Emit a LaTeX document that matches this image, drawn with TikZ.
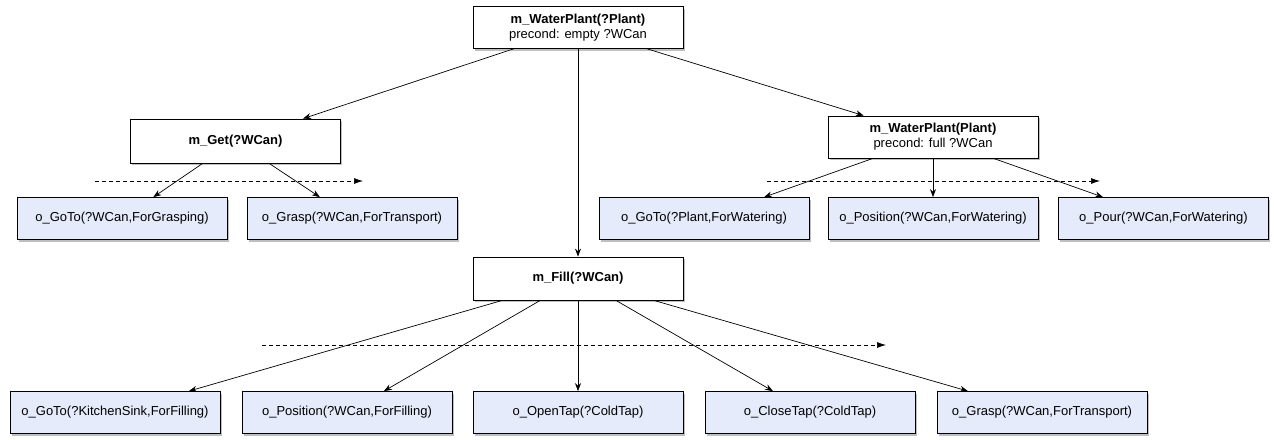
\documentclass[tikz,border=0pt]{standalone}
\usepackage{fontspec}
\setmainfont{Liberation Sans}
\usetikzlibrary{arrows.meta,shadows}
\definecolor{opfill}{RGB}{229,235,250}
\tikzstyle{box}=[draw=black,line width=.8pt,minimum width=210pt,minimum height=42pt,inner sep=2pt,align=center,font=\fontsize{13}{15}\selectfont,drop shadow={shadow xshift=1.5pt,shadow yshift=-2pt,opacity=.5}]
\tikzstyle{method}=[box,fill=white]
\tikzstyle{operator}=[box,fill=opfill]
\tikzstyle{link}=[-{Stealth[length=8pt,width=6pt]},line width=.7pt]
\tikzstyle{order}=[dash pattern=on 4pt off 3pt,-{Latex[length=9pt,width=6pt]},line width=.7pt]

\begin{document}
\begin{tikzpicture}[x=1pt,y=-1pt]
      \useasboundingbox (0,0) rectangle (1274,439);

      % methods
      \node[method] (wp) at (578,27.5) {\textbf{m\_WaterPlant(?Plant)}\\precond: empty ?WCan};
      \node[method,minimum height=44pt] (get) at (235.5,141) {\textbf{m\_Get(?WCan)}};
      \node[method] (wpp) at (933,137) {\textbf{m\_WaterPlant(Plant)}\\precond: full ?WCan};
      \node[method,minimum height=43pt] (fill) at (578,278.5) {\textbf{m\_Fill(?WCan)}};

      % operators of m_Get
      \node[operator] (g1) at (122,218.5) {o\_GoTo(?WCan,ForGrasping)};
      \node[operator] (g2) at (352,218.5) {o\_Grasp(?WCan,ForTransport)};

      % operators of m_WaterPlant(Plant)
      \node[operator] (w1) at (704,218.5) {o\_GoTo(?Plant,ForWatering)};
      \node[operator] (w2) at (933,218.5) {o\_Position(?WCan,ForWatering)};
      \node[operator] (w3) at (1163.5,218.5) {o\_Pour(?WCan,ForWatering)};

      % operators of m_Fill
      \node[operator] (f1) at (115,412.5) {o\_GoTo(?KitchenSink,ForFilling)};
      \node[operator] (f2) at (347,412.5) {o\_Position(?WCan,ForFilling)};
      \node[operator] (f3) at (578,412.5) {o\_OpenTap(?ColdTap)};
      \node[operator] (f4) at (810,412.5) {o\_CloseTap(?ColdTap)};
      \node[operator] (f5) at (1042,412.5) {o\_Grasp(?WCan,ForTransport)};

      \foreach \c in {get,fill,wpp}{
        \draw[link] (wp) -- (\c);
      }
      \foreach \c in {g1,g2}{
        \draw[link] (get) -- (\c);
      }
      \foreach \c in {w1,w2,w3}{
        \draw[link] (wpp) -- (\c);
      }
      \foreach \i in {1,...,5}{
        \draw[link] (fill) -- (f\i);
      }

      % ordering
      \coordinate (o1s) at (95,181);
      \coordinate (o1e) at (363,181);
      \coordinate (o2s) at (767,181);
      \coordinate (o2e) at (1100,181);
      \coordinate (o3s) at (262,345);
      \coordinate (o3e) at (886,345);
      \draw[order] (o1s) -- (o1e);
      \draw[order] (o2s) -- (o2e);
      \draw[order] (o3s) -- (o3e);
\end{tikzpicture}
\end{document}
